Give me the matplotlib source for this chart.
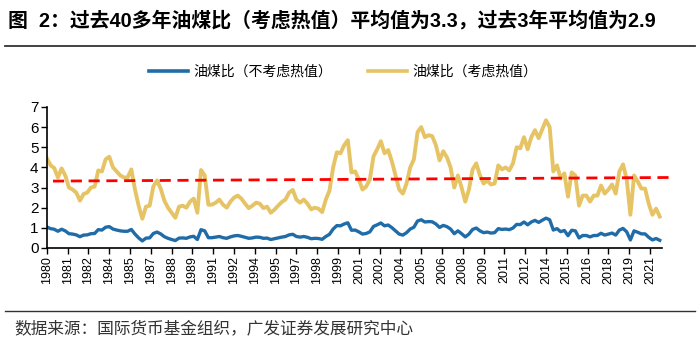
import numpy as np
import matplotlib
matplotlib.use("Agg")
import matplotlib.pyplot as plt
from matplotlib.lines import Line2D

plt.rcParams['font.family'] = ['Liberation Sans', 'Noto Sans CJK SC', 'DejaVu Sans']
plt.rcParams['axes.unicode_minus'] = False

# 季度数据, 1980Q1 - 2021Q4 (横轴按月计)
gold = [4.45, 4.10, 3.97, 3.50,  3.95, 3.60, 3.00, 2.90,  2.75, 2.35, 2.68, 2.75,
        3.00, 3.05, 3.85, 3.80,  4.40, 4.53, 4.00, 3.80,  3.60, 3.50, 3.50, 3.90,
        2.90, 2.10, 1.45, 2.05,  2.10, 3.05, 3.35, 2.95,  2.35, 2.00, 1.75, 1.50,
        2.05, 2.10, 2.00, 2.30,  2.45, 1.75, 3.87, 3.60,  2.15, 2.15, 2.25, 2.40,
        2.15, 2.00, 2.30, 2.50,  2.60, 2.45, 2.20, 1.98,  2.10, 2.25, 2.20, 1.98,
        2.05, 1.75, 1.90, 2.10,  2.28, 2.40, 2.75, 2.88,  2.40, 2.25, 2.40, 2.20,
        1.92, 2.00, 1.95, 1.78,  2.40, 2.85, 4.00, 4.75,  4.70, 5.10, 5.35, 3.75,
        3.80, 3.40, 2.90, 3.05,  3.40, 4.55, 4.90, 5.30,  4.70, 4.86, 4.30, 3.60,
        2.90, 2.70, 3.20, 4.00,  4.40, 5.75, 6.00, 5.50,  5.60, 5.55, 5.10, 4.35,
        4.80, 4.50, 4.00, 3.00,  3.60, 3.00, 2.30, 2.90,  3.90, 4.20, 3.60, 3.20,
        3.35, 3.15, 3.20, 4.10,  3.90, 4.00, 3.85, 4.20,  5.00, 4.95, 5.50, 4.90,
        5.50, 5.85, 5.45, 5.90,  6.34, 6.00, 3.80, 4.10,  3.45, 3.70, 2.55, 3.75,
        3.60, 2.10, 2.60, 2.60,  2.30, 2.60, 2.60, 3.10,  2.70, 2.90, 3.15, 2.70,
        3.80, 4.15, 3.40, 1.65,  3.60, 3.30, 2.95, 2.95,  2.20, 1.65, 1.95, 1.56]

blue = [1.04, 0.96, 0.93, 0.83,  0.93, 0.85, 0.71, 0.69,  0.65, 0.56, 0.64, 0.65,
        0.71, 0.72, 0.91, 0.89,  1.03, 1.06, 0.94, 0.89,  0.85, 0.83, 0.83, 0.92,
        0.69, 0.50, 0.35, 0.49,  0.50, 0.72, 0.79, 0.70,  0.56, 0.48, 0.42, 0.37,
        0.49, 0.50, 0.48, 0.55,  0.58, 0.42, 0.91, 0.85,  0.51, 0.51, 0.54, 0.57,
        0.51, 0.48, 0.55, 0.60,  0.62, 0.58, 0.53, 0.48,  0.50, 0.54, 0.53, 0.48,
        0.49, 0.42, 0.46, 0.50,  0.54, 0.57, 0.65, 0.68,  0.57, 0.54, 0.57, 0.53,
        0.46, 0.48, 0.47, 0.43,  0.57, 0.68, 0.94, 1.11,  1.10, 1.19, 1.25, 0.88,
        0.89, 0.80, 0.69, 0.72,  0.80, 1.07, 1.15, 1.24,  1.10, 1.14, 1.01, 0.85,
        0.69, 0.64, 0.76, 0.94,  1.03, 1.34, 1.40, 1.29,  1.31, 1.30, 1.19, 1.02,
        1.12, 1.06, 0.94, 0.71,  0.85, 0.71, 0.55, 0.69,  0.92, 0.99, 0.85, 0.76,
        0.79, 0.74, 0.76, 0.96,  0.92, 0.94, 0.91, 0.99,  1.17, 1.16, 1.29, 1.15,
        1.29, 1.37, 1.27, 1.38,  1.48, 1.40, 0.89, 0.96,  0.81, 0.87, 0.61, 0.88,
        0.85, 0.50, 0.62, 0.62,  0.55, 0.62, 0.62, 0.73,  0.64, 0.69, 0.74, 0.64,
        0.89, 0.97, 0.80, 0.40,  0.85, 0.78, 0.70, 0.70,  0.53, 0.40, 0.47, 0.38]

# 平均值虚线 (起点, 终点)
trend_x = [5, 512]
trend_y = [3.32, 3.50]

tick_labels = ['1980', '1981', '1982', '1984', '1985', '1987', '1988', '1989', '1991', '1992',
               '1994', '1995', '1997', '1998', '1999', '2001', '2002', '2004', '2005', '2006',
               '2008', '2009', '2011', '2012', '2014', '2015', '2016', '2018', '2019', '2021']

months = np.arange(len(gold)) * 3
tick_pos = np.arange(len(tick_labels)) * 17

c_blue = '#1f6ca8'
c_gold = '#e6c465'

fig = plt.figure(figsize=(7, 3.53), dpi=100)
ax = fig.add_axes([0.067, 0.2975, 0.879, 0.3995])

ax.plot(months, gold, color=c_gold, lw=2.8, solid_joinstyle='round')
ax.plot(months, blue, color=c_blue, lw=2.4, solid_joinstyle='round')
ax.plot(trend_x, trend_y, color='#ff0000', lw=2, ls=(0, (4, 2.4)), clip_on=False)

ax.set_xlim(0, 503)
ax.set_ylim(0, 7)
ax.set_yticks(range(8))
ax.set_xticks(tick_pos)
ax.set_xticklabels(tick_labels, rotation=90, fontsize=9)
ax.tick_params(axis='y', labelsize=11, length=4, width=1, direction='out', pad=2)
ax.tick_params(axis='x', length=4, width=1, direction='out', pad=2)
for s in ['top', 'right']:
    ax.spines[s].set_visible(False)
for s in ['left', 'bottom']:
    ax.spines[s].set_linewidth(1.2)

handles = [Line2D([], [], color=c_blue, lw=2.6), Line2D([], [], color=c_gold, lw=2.6)]
fig.legend(handles, ['油煤比（不考虑热值）', '油煤比（考虑热值）'], loc='center',
           bbox_to_anchor=(0.49, 0.796), ncol=2, frameon=False, fontsize=10,
           handlelength=2.8, columnspacing=2.6, handletextpad=0.4)

fig.text(0.012, 0.943, '图  2：过去40多年油煤比（考虑热值）平均值为3.3，过去3年平均值为2.9',
         fontsize=14.3, fontweight='bold', va='center', ha='left')
fig.add_artist(Line2D([0.007, 0.993], [0.870, 0.870], color='#333333', lw=1.3))
fig.add_artist(Line2D([0.007, 0.993], [0.119, 0.119], color='#333333', lw=1.0))
fig.text(0.021, 0.07, '数据来源：国际货币基金组织，广发证券发展研究中心',
         fontsize=12, color='#333333', va='center', ha='left')

fig.savefig('out.png', dpi=100)
